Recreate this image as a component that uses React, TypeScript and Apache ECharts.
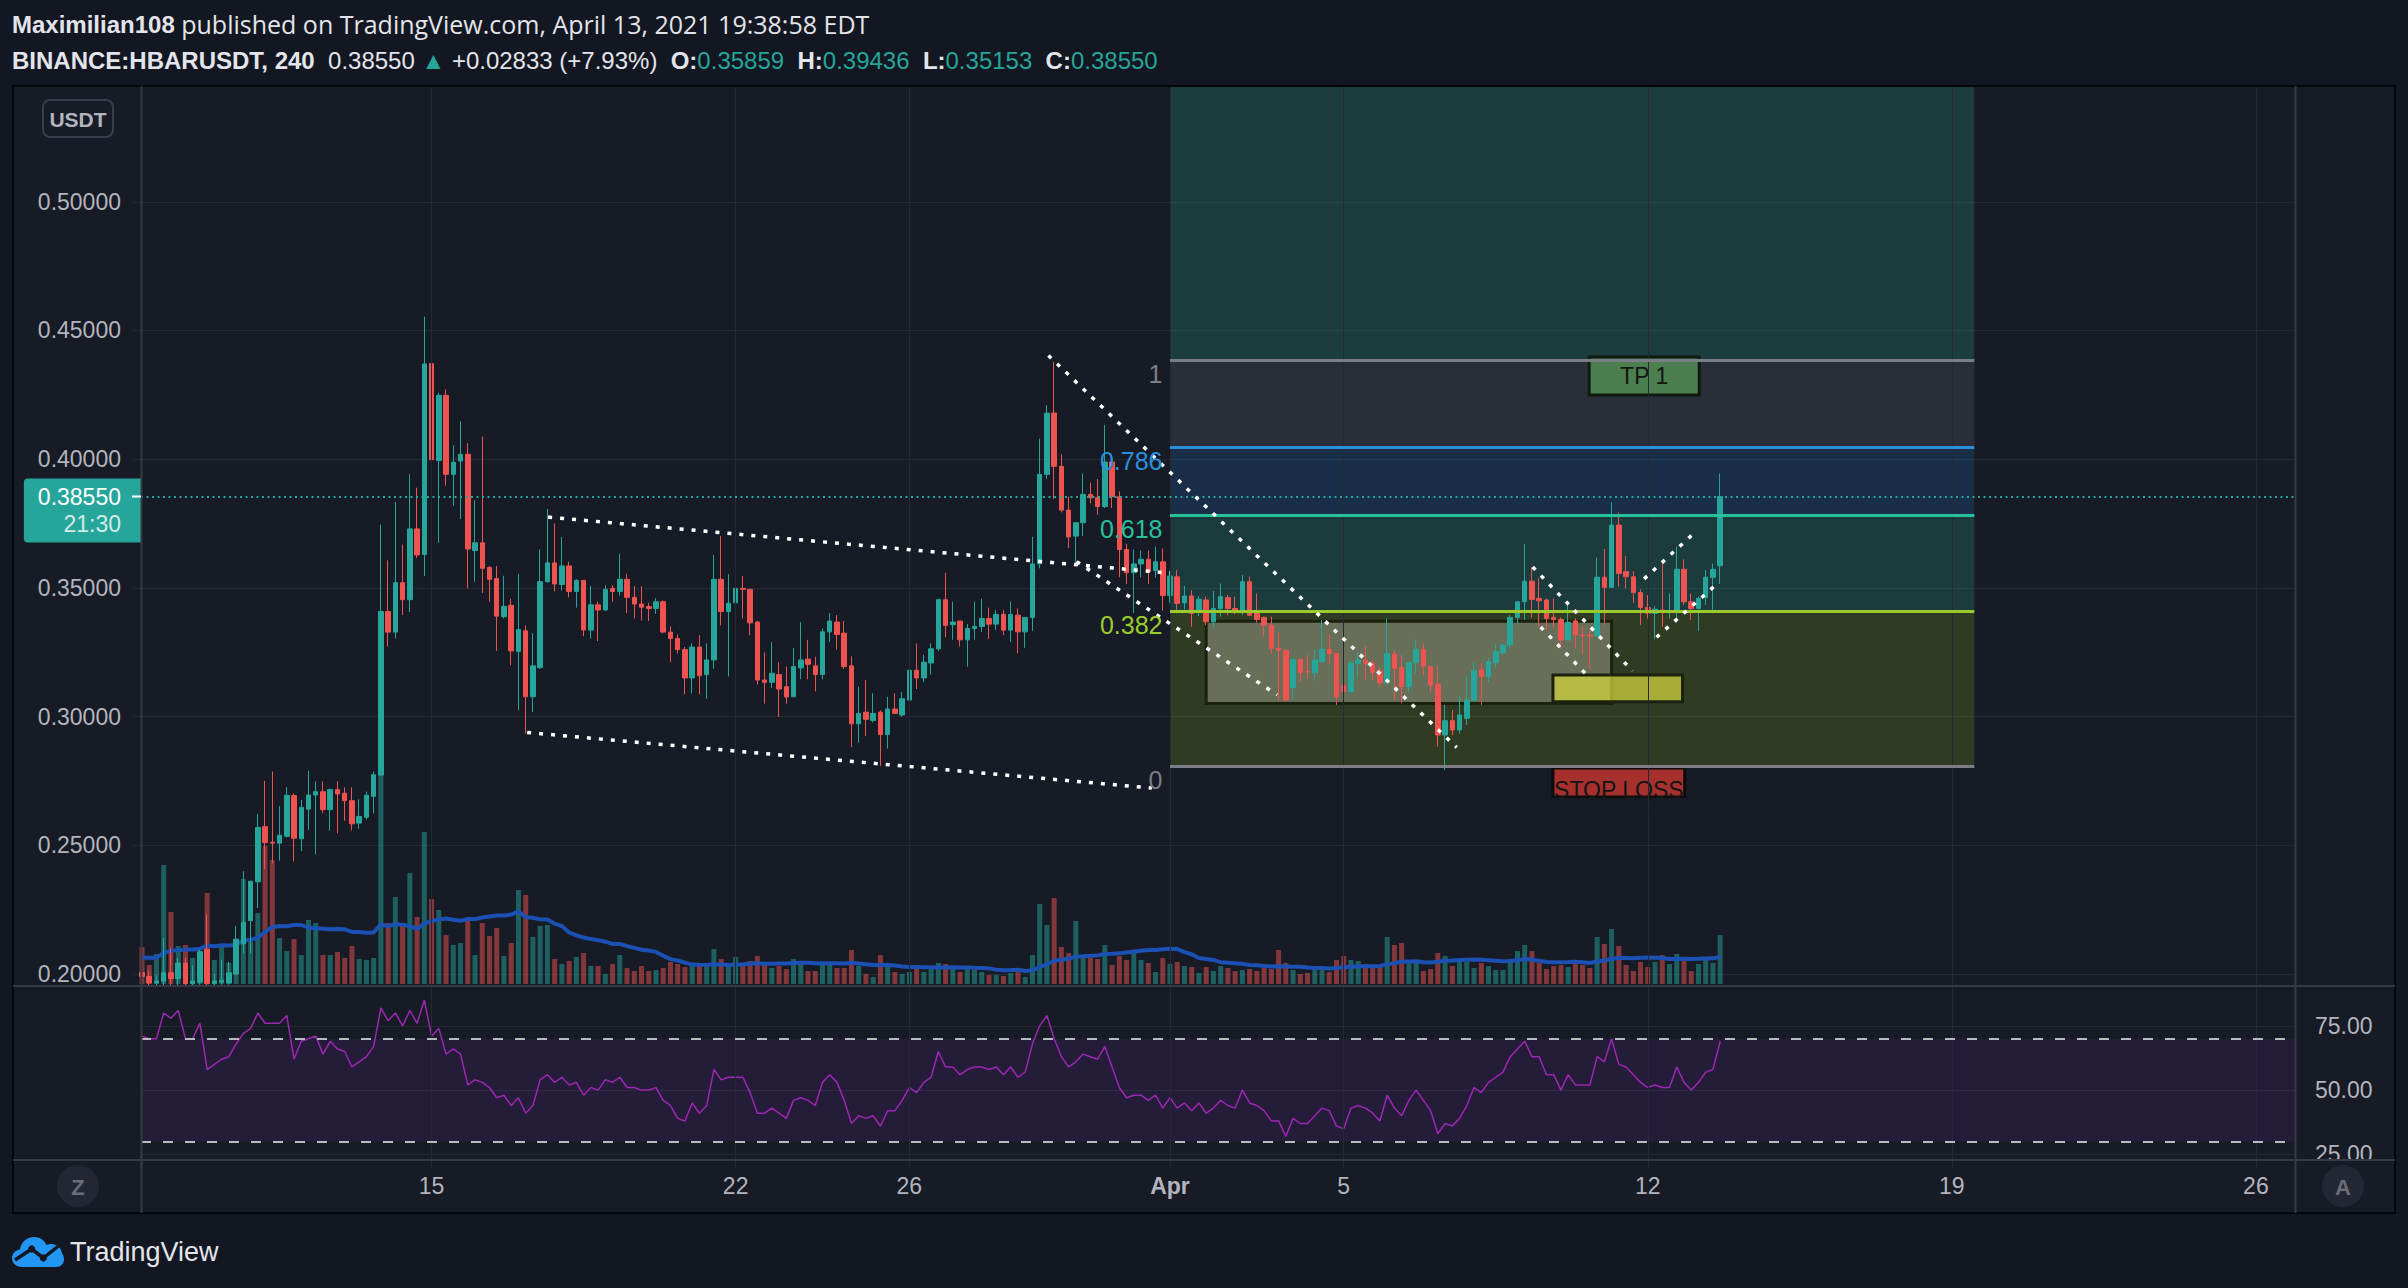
import React, { useEffect, useRef } from "react";
import * as echarts from "echarts";

// ---------- DATA ----------
// 4h bars, index 0 = Mar 8 08:00, index 218 = Apr 13 16:00. [open, high, low, close]
const candles: number[][] = [
  [.2005,.2030,.1975,.1990],[.1990,.2010,.1955,.1965],[.1965,.1995,.1950,.1972],[.1972,.2140,.1955,.2004],[.2004,.2100,.1955,.1982],
  [.1982,.2062,.1955,.2042],[.2042,.2062,.1955,.1962],[.1962,.2034,.1955,.1972],[.1968,.2096,.1958,.2086],[.2096,.2230,.1955,.1962],
  [.1962,.2000,.1955,.1972],[.1968,.2056,.1958,.1975],[.1965,.2048,.1958,.2004],[.2000,.2187,.1995,.2135],[.2117,.2399,.2080,.2200],
  [.2207,.2362,.2080,.2360],[.2358,.2621,.2256,.2569],[.2572,.2750,.2408,.2510],[.2512,.2786,.2430,.2508],[.2508,.2652,.2440,.2539],
  [.2535,.2726,.2530,.2694],[.2693,.2702,.2437,.2527],[.2525,.2676,.2477,.2647],[.2640,.2789,.2560,.2695],[.2695,.2748,.2464,.2708],
  [.2708,.2748,.2624,.2638],[.2638,.2720,.2557,.2716],[.2716,.2748,.2546,.2699],[.2702,.2725,.2595,.2673],[.2673,.2725,.2557,.2583],
  [.2586,.2678,.2564,.2612],[.2609,.2708,.2600,.2694],[.2690,.2786,.2624,.2774],[.2772,.3746,.2772,.3408],[.3408,.3607,.3272,.3328],
  [.3328,.3833,.3303,.3520],[.3520,.3668,.3394,.3454],[.3454,.3941,.3406,.3729],[.3729,.3889,.3616,.3628],[.3630,.4554,.3546,.4370],
  [.4371,.4423,.3715,.3998],[.3995,.4258,.3675,.4248],[.4248,.4271,.3897,.3941],[.3941,.4054,.3819,.3988],[.3993,.4147,.3767,.4019],
  [.4019,.4062,.3498,.3651],[.3645,.3840,.3524,.3675],[.3675,.4088,.3480,.3576],[.3579,.3585,.3446,.3533],[.3536,.3585,.3255,.3390],
  [.3388,.3547,.3381,.3428],[.3432,.3458,.3199,.3255],[.3253,.3555,.3025,.3338],[.3333,.3354,.2933,.3077],[.3077,.3324,.3017,.3197],
  [.3190,.3649,.3185,.3524],[.3524,.3807,.3520,.3597],[.3597,.3750,.3486,.3515],[.3513,.3698,.3489,.3585],[.3585,.3602,.3463,.3486],
  [.3486,.3533,.3423,.3529],[.3529,.3530,.3312,.3336],[.3336,.3507,.3303,.3434],[.3434,.3446,.3293,.3414],[.3414,.3510,.3411,.3494],
  [.3498,.3510,.3446,.3486],[.3486,.3632,.3470,.3533],[.3533,.3555,.3402,.3463],[.3463,.3507,.3381,.3437],[.3437,.3507,.3373,.3425],
  [.3427,.3442,.3371,.3420],[.3420,.3460,.3399,.3446],[.3446,.3451,.3324,.3328],[.3328,.3350,.3211,.3303],[.3303,.3319,.3245,.3260],
  [.3260,.3270,.3086,.3150],[.3150,.3284,.3090,.3270],[.3270,.3316,.3086,.3159],[.3163,.3284,.3069,.3220],[.3220,.3628,.3185,.3533],
  [.3533,.3701,.3354,.3408],[.3408,.3553,.3156,.3440],[.3442,.3553,.3385,.3498],[.3498,.3546,.3381,.3494],[.3494,.3494,.3316,.3364],
  [.3367,.3371,.3124,.3142],[.3142,.3249,.3050,.3133],[.3133,.3289,.3111,.3168],[.3163,.3211,.2998,.3107],[.3116,.3194,.3050,.3076],
  [.3077,.3267,.3077,.3194],[.3189,.3367,.3145,.3220],[.3223,.3298,.3145,.3203],[.3197,.3232,.3098,.3163],[.3163,.3342,.3145,.3329],
  [.3329,.3402,.3289,.3371],[.3367,.3394,.3260,.3319],[.3324,.3371,.3185,.3194],[.3197,.3234,.2881,.2972],[.2972,.3116,.2899,.3012],
  [.3017,.3142,.2925,.2989],[.2985,.3090,.2977,.3012],[.3017,.3024,.2808,.2930],[.2930,.3076,.2876,.3029],[.3029,.3090,.3012,.3012],
  [.3006,.3095,.2999,.3069],[.3064,.3180,.3046,.3180],[.3180,.3284,.3107,.3150],[.3150,.3240,.3133,.3211],[.3208,.3284,.3163,.3263],
  [.3263,.3458,.3255,.3454],[.3454,.3559,.3307,.3354],[.3357,.3446,.3298,.3367],[.3371,.3371,.3272,.3298],[.3298,.3359,.3194,.3342],
  [.3342,.3446,.3298,.3350],[.3350,.3458,.3329,.3381],[.3381,.3423,.3302,.3359],[.3359,.3414,.3336,.3397],[.3397,.3414,.3316,.3336],
  [.3336,.3446,.3289,.3397],[.3394,.3420,.3246,.3329],[.3329,.3385,.3267,.3385],[.3385,.3698,.3333,.3593],[.3593,.4080,.3576,.3941],
  [.3941,.4210,.3923,.4179],[.4179,.4378,.3845,.3972],[.3972,.4019,.3793,.3802],[.3802,.3854,.3654,.3698],[.3701,.3750,.3597,.3753],
  [.3753,.3944,.3701,.3863],[.3863,.3909,.3828,.3850],[.3850,.3923,.3784,.3816],[.3816,.4132,.3810,.3989],[.3989,.4019,.3810,.3854],
  [.3854,.3875,.3541,.3649],[.3649,.3671,.3515,.3559],[.3559,.3649,.3402,.3593],[.3593,.3645,.3541,.3611],[.3611,.3645,.3515,.3562],
  [.3567,.3660,.3540,.3601],[.3601,.3653,.3411,.3470],[.3470,.3567,.3440,.3546],[.3543,.3569,.3401,.3440],[.3442,.3507,.3416,.3468],
  [.3468,.3491,.3349,.3401],[.3414,.3468,.3390,.3456],[.3453,.3466,.3355,.3368],[.3368,.3488,.3343,.3420],[.3420,.3517,.3388,.3466],
  [.3462,.3472,.3394,.3420],[.3420,.3466,.3397,.3407],[.3407,.3550,.3394,.3524],[.3524,.3543,.3390,.3394],[.3403,.3478,.3365,.3377],
  [.3385,.3388,.3310,.3355],[.3355,.3388,.3245,.3265],[.3265,.3326,.3064,.3258],[.3258,.3258,.3058,.3064],[.3113,.3226,.3064,.3222],
  [.3222,.3226,.3135,.3170],[.3176,.3239,.3148,.3174],[.3170,.3262,.3138,.3219],[.3213,.3375,.3209,.3261],[.3261,.3317,.3207,.3245],
  [.3245,.3248,.3045,.3077],[.3122,.3219,.3038,.3096],[.3096,.3219,.3096,.3207],[.3207,.3252,.3148,.3219],[.3219,.3274,.3142,.3207],
  [.3207,.3219,.3142,.3170],[.3178,.3194,.3116,.3131],[.3131,.3381,.3131,.3245],[.3243,.3258,.3064,.3187],[.3191,.3239,.3051,.3116],
  [.3116,.3213,.3096,.3209],[.3209,.3300,.3168,.3261],[.3261,.3284,.3161,.3194],[.3194,.3196,.3096,.3122],[.3126,.3196,.2883,.2928],
  [.2928,.3045,.2792,.2984],[.2984,.3025,.2928,.2948],[.2948,.3080,.2934,.3006],[.2993,.3155,.2967,.3064],[.3064,.3209,.3064,.3178],
  [.3181,.3207,.3045,.3155],[.3155,.3226,.3135,.3213],[.3209,.3280,.3189,.3252],[.3248,.3278,.3240,.3278],[.3278,.3394,.3265,.3385],
  [.3385,.3446,.3356,.3446],[.3446,.3670,.3375,.3526],[.3526,.3580,.3385,.3455],[.3459,.3537,.3349,.3450],[.3453,.3459,.3336,.3381],
  [.3385,.3459,.3343,.3377],[.3377,.3385,.3265,.3297],[.3297,.3450,.3297,.3366],[.3371,.3381,.3265,.3317],[.3317,.3352,.3243,.3313],
  [.3317,.3336,.3187,.3313],[.3313,.3618,.3313,.3541],[.3541,.3651,.3356,.3502],[.3502,.3832,.3502,.3744],[.3744,.3793,.3504,.3556],
  [.3563,.3624,.3498,.3543],[.3543,.3565,.3442,.3482],[.3482,.3494,.3356,.3424],[.3424,.3472,.3381,.3401],[.3401,.3429,.3300,.3417],
  [.3414,.3602,.3349,.3408],[.3408,.3478,.3380,.3412],[.3408,.3660,.3365,.3572],[.3572,.3611,.3433,.3446],[.3446,.3478,.3375,.3420],
  [.3420,.3466,.3332,.3459],[.3462,.3569,.3433,.3541],[.3541,.3595,.3414,.35717],[.35859,.39436,.35153,.38550],
];

// volume per bar (chart units)
const volumes: number[] = [
  37,19,30,119,72,38,39,26,33,91, 24,39,21,45,105,42,71,138,124,46,
  33,45,29,64,61,29,29,32,26,38, 25,24,26,208,61,87,61,111,67,152,
  85,74,49,39,41,64,29,61,48,56, 28,41,94,89,47,58,59,25,20,23,
  27,31,18,18,10,20,29,16,13,18, 13,14,16,22,20,17,18,21,17,35,
  25,21,27,20,23,28,22,16,18,15, 25,21,13,13,19,19,16,16,34,18,
  10,7,29,18,12,10,12,16,12,15, 21,20,16,12,15,14,12,9,9,8,
  11,13,7,29,80,59,86,37,31,63, 26,26,25,39,19,28,24,31,24,21,
  12,26,20,22,18,17,11,17,13,18, 16,13,14,15,13,16,15,34,21,14,
  10,11,14,18,12,24,28,24,23,20, 17,17,47,39,41,22,21,13,15,31,
  28,18,22,22,16,21,18,14,14,25, 33,39,33,21,15,18,19,17,22,19,
  16,47,40,55,38,19,13,22,17,22, 29,20,30,26,13,20,24,21,49,
];
// volumes of the 19 bars just left of the visible range (seed of the 20-bar volume MA)
const volumePrior: number[] = [24,30,21,27,33,22,26,19,28,35,23,25,29,20,27,31,24,22,28];

// RSI(14) per bar
const rsiValues: number[] = [
  71,70,70,80,78,81,70,70,76,58, 60,62,63,68,72,74,80,76,76,76,
  79,62,69,70,71,64,69,66,65,59, 61,63,67,82,77,80,75,81,76,85,
  71,74,64,66,64,52,54,53,51,47, 48,44,47,41,44,54,56,53,55,52,
  53,48,51,50,54,53,55,51,51,50, 50,51,46,44,39,38,45,41,44,58,
  54,55,55,55,49,41,41,43,41,39, 46,47,46,44,53,56,53,46,37,40,
  39,40,36,42,42,46,51,49,53,55, 65,59,59,56,58,59,59,58,59,56,
  59,55,57,68,75,79,70,63,59,61, 64,63,62,67,59,51,47,48,48,46,
  48,43,47,43,45,42,45,41,43,46, 44,43,50,45,44,42,38,38,32,39,
  37,37,40,43,42,36,35,43,44,43, 41,38,48,43,40,46,50,46,42,33,
  37,36,39,44,51,49,53,55,57,63, 66,69,63,63,56,56,50,56,52,52,
  52,63,61,70,60,59,56,53,51,52, 51,51,59,53,50,53,57,58,69,
];

const dayTickBars = [40, 82, 106, 142, 166, 208, 250, 292];
const dayTickLabels = ["15", "22", "26", "Apr", "5", "12", "19", "26"];
const priceTicks = [0.2, 0.25, 0.3, 0.35, 0.4, 0.45, 0.5];
const rsiTicks = [25, 50, 75];
const rsiBands = [30, 70];

// Fibonacci retracement drawing
const fibLow = 0.2808;
const fibHigh = 0.4385;
const fibBars = [142, 253.1];
const fibLevels = [1, 0.786, 0.618, 0.382, 0];
const fibLevelColors = ["#7b7e87", "#2b8fdb", "#27c29a", "#9bcb2a", "#7b7e87"];
const fibZoneColors = ["rgba(40,164,135,0.25)", "rgba(120,123,134,0.2)", "rgba(33,150,243,0.17)", "rgba(40,164,135,0.24)", "rgba(150,190,30,0.2)"];

// dotted trend lines [bar1, price1, bar2, price2]
const trendLines: number[][] = [
  [56.1, 0.3775, 142.0, 0.3557],
  [53.2, 0.2938, 139.5, 0.2722],
  [125.2, 0.4403, 181.6, 0.2880],
  [129.1, 0.3602, 156.8, 0.3084],
  [192.1, 0.3581, 205.9, 0.3177],
  [193.2, 0.3348, 200.1, 0.3146],
  [207.5, 0.3535, 214.8, 0.3723],
  [209.2, 0.3308, 217.8, 0.3521],
];
// boxes [bar1, priceTop, bar2, priceBottom]
const rangeBox = [147.0, 0.3370, 203.0, 0.3051];
const entryBox = [194.9, 0.3161, 212.8, 0.3057];
const tpBox = [199.9, 0.4397, 215.1, 0.4249];
const slBox = [194.9, 0.2800, 213.1, 0.2687];

const SYMBOL = "BINANCE:HBARUSDT";
const INTERVAL = "240";
const COUNTDOWN = "21:30";

// ---------- STYLE ----------
const FONT = "'Liberation Sans', Arial, sans-serif";
const FONT_WIDE = "'Open Sans', 'Liberation Sans', sans-serif";
const UP = "#26a69a";
const DOWN = "#ef5350";
const GRID = "#252934";
const PANE_BG = "#171b26";
const TXT = "#b2b5be";
const X_MIN = -0.138, X_MAX = 297.4;
const P_MIN = 0.1953, P_MAX = 0.5446;
const VOL_MAX = 897;
const RSI_MIN = 22.8, RSI_MAX = 90.5;

const CLOUD_PATH = "M10 31C4 31 0 27 0 22C0 17.5 3.5 14 8 13.5C9 6 15 1 22 1C28 1 32.5 4.5 34.5 9C36 8.3 37.5 8 39 8C45 8 49.5 12 50 17.5C51.5 19 52 21 52 23.5C52 27.5 48.5 31 44.5 31Z";
try {
  echarts.graphic.registerShape("tvCloud", echarts.graphic.extendPath(CLOUD_PATH, {}));
} catch (e) { /* already registered */ }

function buildOption() {
  const n = candles.length;
  const last = candles[n - 1];
  const prevClose = candles[n - 2][3];
  const chg = last[3] - prevClose;
  const pct = (chg / prevClose) * 100;
  const sign = chg >= 0 ? "+" : "";

  const candleData = candles.map((c, i) => [i, c[0], c[3], c[2], c[1]]);
  const volData = volumes.map((v, i) => ({
    value: [i, v],
    itemStyle: { color: candles[i][3] >= candles[i][0] ? "rgba(38,166,154,0.5)" : "rgba(239,83,80,0.5)" },
  }));
  const volAll = volumePrior.concat(volumes);
  const volMA = volumes.map((_, i) => {
    let s = 0;
    for (let k = i; k < i + 20; k++) s += volAll[k];
    return [i, s / 20];
  });
  const rsiData = rsiValues.map((v, i) => [i, v]);
  const fibPrice = (r: number) => fibLow + (fibHigh - fibLow) * r;

  const zoneBounds = [P_MAX, ...fibLevels.map(fibPrice)];
  const zoneData = fibZoneColors.map((c, i) => [
    { coord: [fibBars[0], zoneBounds[i]], itemStyle: { color: c } },
    { coord: [fibBars[1], zoneBounds[i + 1]] },
  ]);

  const vGrid = dayTickBars.map((b) => ({ xAxis: b }));
  const plainLine = { symbol: ["none", "none"], silent: true, label: { show: false }, precision: 6 };

  const header1 = "{b|Maximilian108} published on TradingView.com, April 13, 2021 19:38:58 EDT";
  const header2 =
    `{b|${SYMBOL}, ${INTERVAL}}  ${last[3].toFixed(5)} {t|▲} ${sign}${chg.toFixed(5)} (${sign}${pct.toFixed(2)}%)  ` +
    `{b|O:}{t|${last[0].toFixed(5)}}  {b|H:}{t|${last[1].toFixed(5)}}  {b|L:}{t|${last[2].toFixed(5)}}  {b|C:}{t|${last[3].toFixed(5)}}`;

  return {
    animation: false,
    backgroundColor: "#131722",
    textStyle: { fontFamily: FONT },
    grid: [
      { left: 141, top: 87, width: 2154, height: 899 },
      { left: 141, top: 87, width: 2154, height: VOL_MAX },
      { left: 141, top: 986, width: 2154, height: 174 },
    ],
    xAxis: [
      { type: "value", gridIndex: 0, min: X_MIN, max: X_MAX, show: false },
      { type: "value", gridIndex: 1, min: X_MIN, max: X_MAX, show: false },
      {
        type: "value", gridIndex: 2, min: X_MIN, max: X_MAX,
        axisLine: { show: false },
        splitLine: { show: false },
        axisTick: { show: true, length: 8, lineStyle: { color: GRID }, customValues: dayTickBars },
        axisLabel: {
          customValues: dayTickBars,
          color: TXT, fontSize: 23, fontFamily: FONT, margin: 14,
          formatter: (v: number) => {
            const idx = dayTickBars.findIndex((b) => Math.abs(b - v) < 0.01);
            if (idx < 0) return "";
            const t = dayTickLabels[idx];
            return t === "Apr" ? "{m|Apr}" : t;
          },
          rich: { m: { fontWeight: "bold", fontSize: 23, color: TXT, fontFamily: FONT } },
        },
      },
    ],
    yAxis: [
      {
        type: "value", gridIndex: 0, min: P_MIN, max: P_MAX, position: "left",
        axisLine: { show: false },
        axisTick: { show: true, length: 9, lineStyle: { color: GRID }, customValues: priceTicks },
        axisLabel: { customValues: priceTicks, color: TXT, fontSize: 23, fontFamily: FONT, margin: 20, formatter: (v: number) => v.toFixed(5) },
        splitLine: { show: true, lineStyle: { color: GRID, width: 1 } },
      },
      { type: "value", gridIndex: 1, min: 0, max: VOL_MAX, show: false },
      {
        type: "value", gridIndex: 2, min: RSI_MIN, max: RSI_MAX, position: "right",
        axisLine: { show: false },
        axisTick: { show: true, length: 9, lineStyle: { color: GRID }, customValues: rsiTicks },
        axisLabel: { customValues: rsiTicks, color: TXT, fontSize: 23, fontFamily: FONT, margin: 20, formatter: (v: number) => v.toFixed(2) },
        splitLine: { show: true, lineStyle: { color: GRID, width: 1 } },
      },
    ],
    series: [
      { // vertical grid, price pane
        type: "line", xAxisIndex: 0, yAxisIndex: 0, data: [], z: 0, silent: true,
        markLine: { ...plainLine, lineStyle: { color: GRID, width: 1, type: "solid" }, data: vGrid },
      },
      { // vertical grid, RSI pane
        type: "line", xAxisIndex: 2, yAxisIndex: 2, data: [], z: 0, silent: true,
        markLine: { ...plainLine, lineStyle: { color: GRID, width: 1, type: "solid" }, data: vGrid },
      },
      { // fib zones + level labels (behind candles)
        type: "line", xAxisIndex: 0, yAxisIndex: 0, data: [], z: 1, silent: true,
        markArea: { silent: true, data: zoneData },
        markPoint: {
          silent: true, symbol: "circle", symbolSize: 1, itemStyle: { color: "rgba(0,0,0,0)" },
          data: fibLevels.map((r, i) => ({
            coord: [fibBars[0], fibPrice(r)],
            label: {
              show: true, position: "left", distance: 7, offset: [0, 14],
              formatter: String(r), color: fibLevelColors[i], fontSize: 25, fontFamily: FONT,
            },
          })),
        },
      },
      { // boxes behind candles
        type: "line", xAxisIndex: 0, yAxisIndex: 0, data: [], z: 2, silent: true,
        markArea: {
          silent: true,
          data: [
            [{ coord: [rangeBox[0], rangeBox[1]], itemStyle: { color: "rgba(220,220,200,0.32)", borderColor: "#1a210e", borderWidth: 3 } }, { coord: [rangeBox[2], rangeBox[3]] }],
            [{ coord: [entryBox[0], entryBox[1]], itemStyle: { color: "rgba(215,215,60,0.72)", borderColor: "#1a210e", borderWidth: 3 } }, { coord: [entryBox[2], entryBox[3]] }],
          ],
        },
      },
      { // volume
        type: "bar", xAxisIndex: 1, yAxisIndex: 1, data: volData, barWidth: 5, z: 2, silent: true,
      },
      { // volume MA
        type: "line", xAxisIndex: 1, yAxisIndex: 1, data: volMA, showSymbol: false, z: 3, silent: true,
        lineStyle: { color: "#1b50b4", width: 4 },
      },
      { // candles
        type: "candlestick", xAxisIndex: 0, yAxisIndex: 0, data: candleData, encode: { x: 0, y: [1, 2, 3, 4] },
        barWidth: 5, z: 3, silent: true,
        itemStyle: { color: UP, color0: DOWN, borderColor: UP, borderColor0: DOWN, borderWidth: 1 },
        markLine: {
          symbol: ["none", "none"], silent: true, precision: 6,
          lineStyle: { color: UP, width: 2, type: [2, 3.5] },
          label: {
            show: true, position: "start", distance: 0, offset: [0, 14],
            formatter: `{p|${last[3].toFixed(5)}}\n{t|${COUNTDOWN}}`,
            backgroundColor: UP, borderRadius: [4, 0, 0, 4], padding: [5, 20, 5, 14],
            rich: {
              p: { color: "#ffffff", fontSize: 23, fontFamily: FONT, align: "right", lineHeight: 27 },
              t: { color: "rgba(255,255,255,0.8)", fontSize: 23, fontFamily: FONT, align: "right", lineHeight: 27 },
            },
          },
          data: [{ yAxis: last[3] }],
        },
      },
      { // fib level lines
        type: "line", xAxisIndex: 0, yAxisIndex: 0, data: [], z: 4, silent: true,
        markLine: {
          ...plainLine,
          data: fibLevels.map((r, i) => [
            { coord: [fibBars[0], fibPrice(r)], lineStyle: { color: fibLevelColors[i], width: 3, type: "solid" } },
            { coord: [fibBars[1], fibPrice(r)], lineStyle: { color: fibLevelColors[i], width: 3, type: "solid" } },
          ]),
        },
      },
      { // TP / SL labels
        type: "line", xAxisIndex: 0, yAxisIndex: 0, data: [], z: 5, silent: true,
        markArea: {
          silent: true,
          data: [
            [{ name: "TP 1", coord: [tpBox[0], tpBox[1]], itemStyle: { color: "#4b7f50", borderColor: "#0e1a10", borderWidth: 3 },
               label: { show: true, position: "inside", formatter: "TP 1", color: "#141414", fontSize: 23, fontFamily: FONT } },
             { coord: [tpBox[2], tpBox[3]] }],
            [{ name: "STOP LOSS", coord: [slBox[0], slBox[1]], itemStyle: { color: "#a6302e", borderColor: "#0c0c0c", borderWidth: 3 },
               label: { show: true, position: "insideTop", distance: 12, formatter: "STOP LOSS", color: "#141414", fontSize: 23, fontFamily: FONT } },
             { coord: [slBox[2], slBox[3]] }],
          ],
        },
      },
      { // trend lines
        type: "line", xAxisIndex: 0, yAxisIndex: 0, data: [], z: 6, silent: true,
        markLine: {
          ...plainLine,
          lineStyle: { color: "#ffffff", width: 3.5, type: [4, 8] },
          data: trendLines.map((t) => [{ coord: [t[0], t[1]] }, { coord: [t[2], t[3]] }]),
        },
      },
      { // hides the lower part of the STOP LOSS text (clipped in the original)
        type: "line", xAxisIndex: 0, yAxisIndex: 0, data: [], z: 7, silent: true,
        markArea: {
          silent: true,
          data: [[{ coord: [slBox[0] - 0.5, slBox[3] - 0.0004], itemStyle: { color: PANE_BG } }, { coord: [slBox[2] + 0.5, slBox[3] - 0.006] }]],
        },
      },
      { // RSI
        type: "line", xAxisIndex: 2, yAxisIndex: 2, data: rsiData, showSymbol: false, z: 3, silent: true,
        lineStyle: { color: "#9c27b0", width: 1.5 },
        markArea: { silent: true, itemStyle: { color: "rgba(130,40,200,0.12)" }, data: [[{ yAxis: rsiBands[0] }, { yAxis: rsiBands[1] }]] },
        markLine: {
          ...plainLine,
          lineStyle: { color: "#b8bac2", width: 2, type: [10, 12] },
          data: rsiBands.map((b) => ({ yAxis: b })),
        },
      },
    ],
    graphic: {
      elements: [
        { type: "rect", z: -10, silent: true, shape: { x: 13, y: 86, width: 2382, height: 1127 }, style: { fill: PANE_BG, stroke: "#05060a", lineWidth: 2 } },
        { type: "line", z: 20, silent: true, shape: { x1: 141.5, y1: 86, x2: 141.5, y2: 1213 }, style: { stroke: "#363a45", lineWidth: 2 } },
        { type: "line", z: 20, silent: true, shape: { x1: 2295.5, y1: 86, x2: 2295.5, y2: 1213 }, style: { stroke: "#363a45", lineWidth: 2 } },
        { type: "line", z: 20, silent: true, shape: { x1: 13, y1: 986, x2: 2395, y2: 986 }, style: { stroke: "#363a45", lineWidth: 2 } },
        { type: "line", z: 20, silent: true, shape: { x1: 13, y1: 1160, x2: 2395, y2: 1160 }, style: { stroke: "#363a45", lineWidth: 2 } },
        { type: "rect", z: 30, silent: true, shape: { x: 2297, y: 1161, width: 97, height: 51 }, style: { fill: PANE_BG } },
        { type: "line", z: 31, silent: true, shape: { x1: 132, y1: 496.5, x2: 141, y2: 496.5 }, style: { stroke: "#ffffff", lineWidth: 2 } },
        // header
        { type: "text", z: 40, x: 12, y: 24, silent: true,
          style: { text: header1, fill: "#e3e5ea", fontSize: 25, fontFamily: FONT_WIDE, verticalAlign: "middle",
            rich: { b: { fontWeight: "bold", fontSize: 24, fontFamily: FONT, fill: "#e3e5ea" } } } },
        { type: "text", z: 40, x: 12, y: 60, silent: true,
          style: { text: header2, fill: "#e3e5ea", fontSize: 24, fontFamily: FONT, verticalAlign: "middle",
            rich: {
              b: { fontWeight: "bold", fontSize: 24, fontFamily: FONT, fill: "#e3e5ea" },
              t: { fontSize: 24, fontFamily: FONT, fill: UP },
            } } },
        // USDT badge
        { type: "rect", z: 40, silent: true, shape: { x: 43, y: 100, width: 70, height: 37, r: 7 }, style: { fill: PANE_BG, stroke: "#3a3e4a", lineWidth: 2 } },
        { type: "text", z: 41, x: 78, y: 119, silent: true, style: { text: "USDT", fill: TXT, fontSize: 21, fontWeight: "bold", fontFamily: FONT, align: "center", verticalAlign: "middle" } },
        // Z / A buttons
        { type: "circle", z: 40, silent: true, shape: { cx: 78, cy: 1186, r: 21 }, style: { fill: "#232733" } },
        { type: "text", z: 41, x: 78, y: 1187, silent: true, style: { text: "Z", fill: "#6a6d78", fontSize: 22, fontWeight: "bold", fontFamily: FONT, align: "center", verticalAlign: "middle" } },
        { type: "circle", z: 40, silent: true, shape: { cx: 2343, cy: 1186, r: 21 }, style: { fill: "#232733" } },
        { type: "text", z: 41, x: 2343, y: 1187, silent: true, style: { text: "A", fill: "#6a6d78", fontSize: 22, fontWeight: "bold", fontFamily: FONT, align: "center", verticalAlign: "middle" } },
        // TradingView logo
        { type: "tvCloud", z: 40, x: 12, y: 1236, silent: true, style: { fill: "#2196f3" } },
        { type: "polyline", z: 41, x: 12, y: 1236, silent: true, shape: { points: [[3, 24], [19.7, 13], [31.3, 22], [49, 8]] }, style: { stroke: "#131722", lineWidth: 3.5, fill: null } },
        { type: "circle", z: 42, x: 12, y: 1236, silent: true, shape: { cx: 19.7, cy: 13, r: 3.6 }, style: { fill: "#131722" } },
        { type: "circle", z: 42, x: 12, y: 1236, silent: true, shape: { cx: 31.3, cy: 22, r: 3.6 }, style: { fill: "#131722" } },
        { type: "text", z: 40, x: 70, y: 1252, silent: true, style: { text: "TradingView", fill: "#e3e5ea", fontSize: 27, fontFamily: FONT, verticalAlign: "middle" } },
      ],
    },
  };
}

export default function App() {
  const ref = useRef<HTMLDivElement>(null);
  useEffect(() => {
    if (!ref.current) return;
    const chart = echarts.init(ref.current, null, { renderer: "svg", width: 2408, height: 1288 });
    chart.setOption(buildOption() as any);
    return () => chart.dispose();
  }, []);
  return <div ref={ref} style={{ position: "fixed", left: 0, top: 0, width: 2408, height: 1288 }} />;
}
